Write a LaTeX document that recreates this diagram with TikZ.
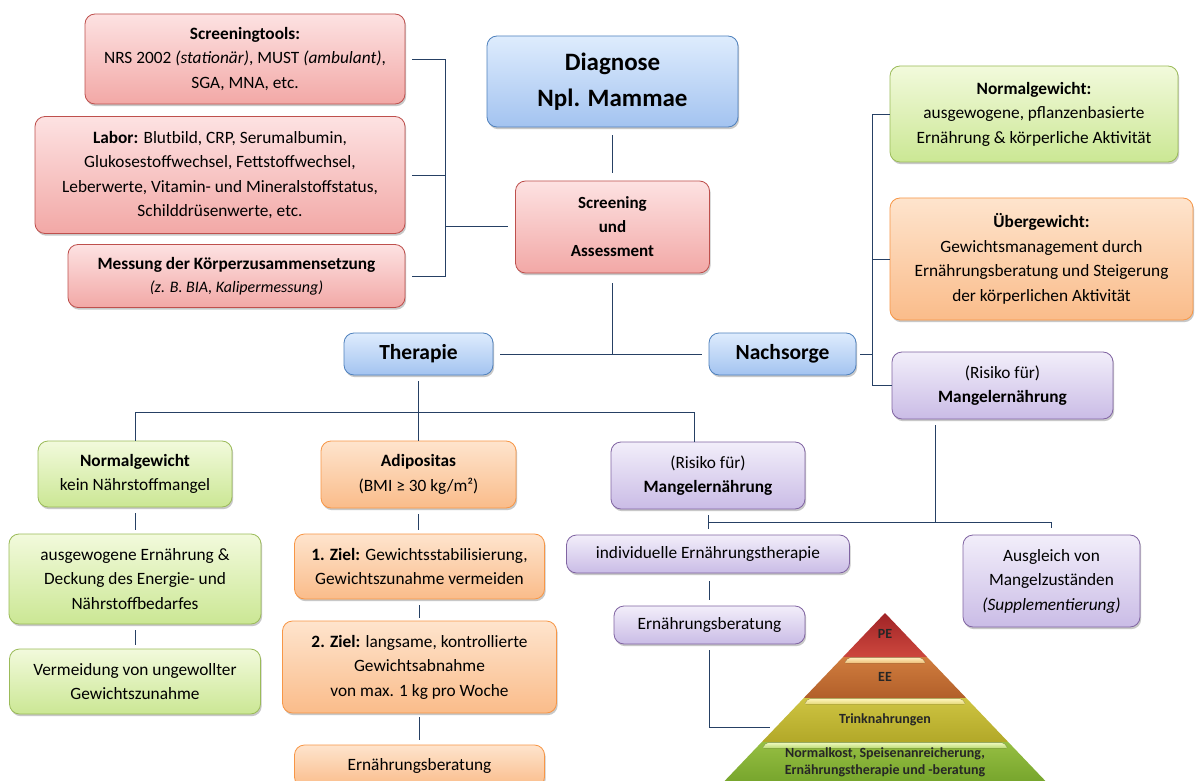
\documentclass[tikz,border=0pt]{standalone}
\usepackage{fontspec}
\setmainfont{Carlito}
\usetikzlibrary{shadows}
\definecolor{cline}{RGB}{38,64,100}
\definecolor{rBord}{RGB}{190,80,77}\definecolor{rTop}{RGB}{253,226,226}\definecolor{rBot}{RGB}{242,168,166}
\definecolor{bBord}{RGB}{79,129,189}\definecolor{bTop}{RGB}{222,236,253}\definecolor{bBot}{RGB}{163,195,240}
\definecolor{gBord}{RGB}{155,187,89}\definecolor{gTop}{RGB}{242,250,220}\definecolor{gBot}{RGB}{203,231,148}
\definecolor{oBord}{RGB}{247,150,70}\definecolor{oTop}{RGB}{254,228,205}\definecolor{oBot}{RGB}{250,188,138}
\definecolor{pBord}{RGB}{128,100,162}\definecolor{pTop}{RGB}{242,238,250}\definecolor{pBot}{RGB}{202,188,230}
\begin{document}
\begin{tikzpicture}[x=1pt,y=-1pt,
  box/.style={rounded corners=10pt, draw, line width=0.8pt, align=center, inner sep=2pt,
    drop shadow={shadow xshift=1.2pt, shadow yshift=-2.2pt, opacity=0.3, fill=black!70},
    font=\fontsize{17.3}{24.5}\selectfont},
  sz/.style 2 args={minimum width=#1, minimum height=#2},
  redbox/.style={box, draw=rBord, top color=rTop, bottom color=rBot},
  bluebox/.style={box, draw=bBord, top color=bTop, bottom color=bBot},
  greenbox/.style={box, draw=gBord, top color=gTop, bottom color=gBot},
  orangebox/.style={box, draw=oBord, top color=oTop, bottom color=oBot},
  purplebox/.style={box, draw=pBord, top color=pTop, bottom color=pBot},
  conn/.style={draw=cline, line width=0.9pt},
  ptext/.style={font=\fontsize{14}{17}\selectfont\bfseries, text=black!85, align=center, inner sep=0pt}
]
\clip (0,0) rectangle (1195,781);
\fill[white] (0,0) rectangle (1195,781);

% ---------- top left (screening) ----------
\node[redbox, sz={320}{90}] (scr) at (245,59)
  {\textbf{Screeningtools:}\\NRS 2002 \textit{(stationär)}, MUST \textit{(ambulant)},\\SGA, MNA, etc.};
\node[redbox, sz={370}{117}] (lab) at (220,175)
  {\textbf{Labor:} Blutbild, CRP, Serumalbumin,\\Glukosestoffwechsel, Fettstoffwechsel,\\Leberwerte, Vitamin- und Mineralstoffstatus,\\Schilddrüsenwerte, etc.};
\node[redbox, sz={337}{63}, font=\fontsize{17.3}{23}\selectfont] (mes) at (236.5,276)
  {\textbf{Messung der Körperzusammensetzung}\\{\fontsize{16}{18}\selectfont\textit{(z. B. BIA, Kalipermessung)}}};

% ---------- centre ----------
\node[bluebox, sz={251}{91}, font=\fontsize{25}{36}\selectfont\bfseries] (diag) at (612.5,81.5) {Diagnose\\Npl. Mammae};
\node[redbox, sz={194}{92}, font=\fontsize{17}{24}\selectfont\bfseries] (scrA) at (612.5,227) {Screening\\und\\Assessment};
\node[bluebox, sz={149}{42}, font=\fontsize{21.5}{24}\selectfont\bfseries] (ther) at (418.5,354) {Therapie};
\node[bluebox, sz={147}{42}, font=\fontsize{21.5}{24}\selectfont\bfseries] (nach) at (782.5,354) {Nachsorge};

% ---------- right (Nachsorge) ----------
\node[greenbox, sz={288}{96}] (ngR) at (1034,114)
  {\textbf{Normalgewicht:}\\ausgewogene, pflanzenbasierte\\Ernährung \& körperliche Aktivität};
\node[orangebox, sz={303}{122}] (ugR) at (1041.5,259)
  {\textbf{Übergewicht:}\\Gewichtsmanagement durch\\Ernährungsberatung und Steigerung\\der körperlichen Aktivität};
\node[purplebox, sz={221}{67}] (mgR) at (1002.5,385.5) {(Risiko für)\\\textbf{Mangelernährung}};

% ---------- bottom left (Therapie) ----------
\node[greenbox, sz={194}{66}] (ngL) at (135,474) {\textbf{Normalgewicht}\\kein Nährstoffmangel};
\node[greenbox, sz={252}{90}] (awL) at (135,579) {ausgewogene Ernährung \&\\Deckung des Energie- und\\Nährstoffbedarfes};
\node[greenbox, sz={251}{65}] (vmL) at (135,681.5) {Vermeidung von ungewollter\\Gewichtszunahme};

\node[orangebox, sz={195}{67}] (adi) at (418.5,474.5) {\textbf{Adipositas}\\(BMI ≥ 30 kg/m²)};
\node[orangebox, sz={250}{65}] (z1) at (419.5,566.5) {\textbf{1. Ziel:} Gewichtsstabilisierung,\\Gewichtszunahme vermeiden};
\node[orangebox, sz={274}{92}] (z2) at (419.5,667) {\textbf{2. Ziel:} langsame, kontrollierte\\Gewichtsabnahme\\von max. 1 kg pro Woche};
\node[orangebox, sz={250}{42}] (ebO) at (419.5,766) {Ernährungsberatung};

\node[purplebox, sz={194}{67}] (rmM) at (708,475.5) {(Risiko für)\\\textbf{Mangelernährung}};
\node[purplebox, sz={283}{38}] (ind) at (708,554) {individuelle Ernährungstherapie};
\node[purplebox, sz={191}{38}] (ebP) at (709.5,625) {Ernährungsberatung};
\node[purplebox, sz={177}{92}] (ausg) at (1051.5,581) {Ausgleich von\\Mangelzuständen\\\textit{(Supplementierung)}};

% ---------- pyramid ----------
\path[top color={rgb,255:red,160;green,35;blue,38}, bottom color={rgb,255:red,205;green,72;blue,62}]
  (885,613) -- (927,657) -- (843,657) -- cycle;
\path[top color={rgb,255:red,208;green,125;blue,62}, bottom color={rgb,255:red,178;green,95;blue,42}]
  (843,657) -- (927,657) -- (966.2,698) -- (803.8,698) -- cycle;
\path[top color={rgb,255:red,206;green,196;blue,66}, bottom color={rgb,255:red,178;green,168;blue,40}]
  (803.8,698) -- (966.2,698) -- (1008.2,742) -- (761.8,742) -- cycle;
\path[top color={rgb,255:red,150;green,190;blue,66}, bottom color={rgb,255:red,112;green,160;blue,40}]
  (761.8,742) -- (1008.2,742) -- (1054,790) -- (716,790) -- cycle;
% highlight bands
\fill[rounded corners=2pt, top color={rgb,255:red,255;green,240;blue,190}, bottom color={rgb,255:red,238;green,190;blue,120}]
  (849,657.5) -- (921,657.5) -- (926,663) -- (844,663) -- cycle;
\fill[rounded corners=2pt, top color={rgb,255:red,255;green,246;blue,190}, bottom color={rgb,255:red,230;green,218;blue,120}]
  (809,698.5) -- (961,698.5) -- (966,704) -- (804,704) -- cycle;
\fill[rounded corners=2pt, top color={rgb,255:red,240;green,250;blue,190}, bottom color={rgb,255:red,190;green,220;blue,120}]
  (767,742.5) -- (1003,742.5) -- (1008,748) -- (762,748) -- cycle;
\node[ptext] (pPE) at (885,634) {PE};
\node[ptext] (pEE) at (885,677) {EE};
\node[ptext] (pTr) at (885,720) {Trinknahrungen};
\node[ptext] (pNk) at (885,762) {Normalkost, Speisenanreicherung,\\Ernährungstherapie und -beratung};

% ---------- connectors ----------
\coordinate (bL) at (445,226);
\draw[conn, shorten <=7pt] (scr.east) -| (bL);
\draw[conn, shorten <=7pt] (lab.east) -| (bL);
\draw[conn, shorten <=7pt] (mes.east) -| (bL);
\draw[conn, shorten >=7pt] (bL) -- (scrA.west |- bL);

\draw[conn, shorten <=8pt, shorten >=8pt] (diag) -- (scrA);
\coordinate (jT) at (612.5,354);
\draw[conn, shorten <=10pt] (scrA.south) -- (jT);
\draw[conn, shorten <=7pt, shorten >=7pt] (ther.east) -- (nach.west);

\coordinate (bR) at (872,354);
\draw[conn, shorten <=4pt] (nach.east) -- (bR);
\draw[conn] (bR) |- (ngR.west);
\draw[conn] (bR) |- (ugR.west);
\draw[conn] (bR) |- (mgR.west);

\coordinate (jB) at (418.5,412);
\draw[conn, shorten <=6pt] (ther.south) -- (jB);
\draw[conn] (jB) -| (ngL.north);
\draw[conn] (jB) -- (adi.north);
\draw[conn] (jB) -| ([xshift=-14pt]rmM.north);

\draw[conn, shorten <=6pt, shorten >=4pt] (ngL) -- (awL);
\draw[conn, shorten <=6pt, shorten >=4pt] (awL) -- (vmL);
\draw[conn, shorten <=6pt, shorten >=4pt] (adi.south) -- (adi.south |- z1.north);
\draw[conn, shorten <=6pt, shorten >=3pt] (z1) -- (z2);
\draw[conn, shorten <=4pt, shorten >=5pt] (z2) -- (ebO);

\coordinate (jM) at (708,522);
\coordinate (jR) at (935,522);
\draw[conn, shorten <=6pt] (rmM.south) -- (jM);
\draw[conn, shorten >=6pt] (jM) -- (ind.north);
\draw[conn, shorten >=7pt] (jM) -| (ausg.north);
\draw[conn, shorten <=6pt] ([xshift=-67.5pt]mgR.south) -- (jR);
\draw[conn, shorten <=8pt, shorten >=6pt] (ind.south -| ebP) -- (ebP.north);
\coordinate (pyrL) at (770,727);
\draw[conn, shorten <=6pt] (ebP.south) |- (pyrL);
\end{tikzpicture}
\end{document}
